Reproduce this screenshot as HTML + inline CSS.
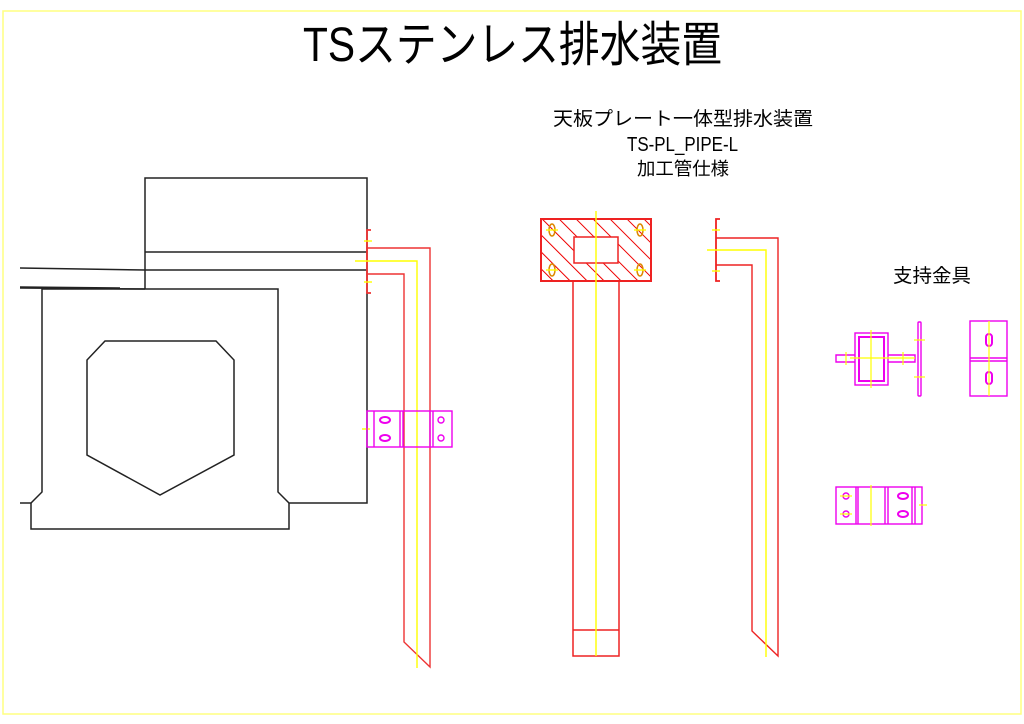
<!DOCTYPE html>
<html><head><meta charset="utf-8"><style>
html,body{margin:0;padding:0;background:#fff;}
svg{display:block;}
text{font-family:"Liberation Sans","Noto Sans CJK JP",sans-serif;fill:#000;}
</style></head><body>
<svg width="1024" height="724" viewBox="0 0 1024 724" xmlns="http://www.w3.org/2000/svg">
<defs>
<pattern id="h" patternUnits="userSpaceOnUse" width="12" height="12" patternTransform="rotate(-45)">
<line x1="0" y1="0" x2="0" y2="12" stroke="#e00" stroke-width="2"/>
</pattern>
</defs>
<rect x="3" y="11" width="1018" height="703" fill="none" stroke="#ffff80" stroke-width="1.5"/>
<text x="303" y="61" font-size="48" textLength="419" lengthAdjust="spacingAndGlyphs">TSステンレス排水装置</text>
<text x="553" y="125" font-size="19" textLength="260" lengthAdjust="spacingAndGlyphs">天板プレート一体型排水装置</text>
<text x="627" y="151" font-size="20" textLength="111" lengthAdjust="spacingAndGlyphs">TS-PL_PIPE-L</text>
<text x="637" y="175" font-size="18" textLength="92" lengthAdjust="spacingAndGlyphs">加工管仕様</text>
<text x="893" y="282" font-size="19" textLength="78" lengthAdjust="spacingAndGlyphs">支持金具</text>

<!-- left structure -->
<g fill="none" stroke="#222" stroke-width="1.5">
<polyline points="145,289 145,178 367,178 367,503 289,503 278,492 278,289 42,289 42,492 31,503 20,503"/>
<line x1="145" y1="252" x2="367" y2="252"/>
<line x1="145" y1="270" x2="367" y2="270"/>
<line x1="20" y1="268" x2="145" y2="270"/>
<line x1="20" y1="288" x2="145" y2="289"/>
<line x1="20" y1="287" x2="120" y2="288"/>
<polyline points="31,503 31,529 289,529 289,503"/>
<polygon points="105,341 216,341 234,360 234,455 160,495 87,455 87,360"/>
</g>

<!-- left pipe -->
<g fill="none" stroke="#e33" stroke-width="1.4">
<polyline points="367,248 430,248 430,667 404,642 404,274 367,274"/>
<polyline points="371,230 367,230 367,293 371,293" stroke-width="1.8"/>
</g>
<g stroke="#ff0" stroke-width="1.4" fill="none">
<polyline points="355,261 417,261 417,668"/>
<line x1="364" y1="241" x2="372" y2="241"/><line x1="364" y1="282" x2="372" y2="282"/>
<line x1="362" y1="429" x2="370" y2="429"/>
</g>
<!-- left bracket -->
<g fill="none" stroke="#e0e" stroke-width="1.4">
<rect x="367" y="411" width="85" height="36"/>
<line x1="374" y1="411" x2="374" y2="447"/>
<line x1="400" y1="411" x2="400" y2="447"/><line x1="403" y1="411" x2="403" y2="447"/>
<line x1="430" y1="411" x2="430" y2="447"/><line x1="433" y1="411" x2="433" y2="447"/>
<ellipse cx="385" cy="420" rx="5" ry="3" stroke-width="2"/><ellipse cx="385" cy="438" rx="5" ry="3" stroke-width="2"/>
<circle cx="441" cy="420" r="3"/><circle cx="441" cy="438" r="3"/>
</g>

<!-- middle plate -->
<path d="M541,219 H651 V281 H541 Z M574,237 V263 H618 V237 Z" fill="url(#h)" fill-rule="evenodd" stroke="none"/>
<g fill="none" stroke="#e22" stroke-width="1.5">
<rect x="541" y="219" width="110" height="62" stroke-width="2"/>
<rect x="574" y="237" width="44" height="26"/>
<rect x="573" y="281" width="46" height="375"/>
<line x1="573" y1="630" x2="619" y2="630"/>
<ellipse cx="552" cy="230" rx="3" ry="6" stroke="#d80"/><ellipse cx="640" cy="230" rx="3" ry="6" stroke="#d80"/>
<ellipse cx="552" cy="270" rx="3" ry="6" stroke="#d80"/><ellipse cx="640" cy="270" rx="3" ry="6" stroke="#d80"/>
</g>
<g stroke="#ff0" stroke-width="1.4">
<line x1="596" y1="211" x2="596" y2="656"/>
<line x1="546" y1="230" x2="558" y2="230"/><line x1="634" y1="230" x2="646" y2="230"/>
<line x1="546" y1="270" x2="558" y2="270"/><line x1="634" y1="270" x2="646" y2="270"/>
</g>

<!-- right pipe -->
<g fill="none" stroke="#e22" stroke-width="1.4">
<polyline points="716,238 778,238 778,656 752,631 752,265 716,265"/>
<polyline points="720,219 716,219 716,281 720,281" stroke-width="1.8"/>
</g>
<g stroke="#ff0" stroke-width="1.4" fill="none">
<polyline points="707,250 766,250 766,657"/>
<line x1="712" y1="230" x2="720" y2="230"/><line x1="712" y1="271" x2="720" y2="271"/>
</g>

<!-- right brackets -->
<g fill="none" stroke="#e0e" stroke-width="1.4">
<rect x="855" y="333" width="33" height="52"/>
<rect x="859" y="337" width="25" height="44" stroke-width="2"/>
<polyline points="855,355 836,355 836,362 855,362"/>
<polyline points="888,355 915,355 915,362 888,362"/>
<rect x="918" y="322" width="3" height="74" rx="1"/>
<rect x="970" y="321" width="37" height="75"/>
<line x1="970" y1="358" x2="1007" y2="358"/><line x1="970" y1="361" x2="1007" y2="361"/>
<rect x="986" y="334" width="6" height="12" rx="3" stroke-width="2"/><rect x="986" y="372" width="6" height="12" rx="3" stroke-width="2"/>
<rect x="836" y="487" width="86" height="37"/>
<line x1="856" y1="487" x2="856" y2="524"/><line x1="858" y1="487" x2="858" y2="524"/>
<line x1="885" y1="487" x2="885" y2="524"/><line x1="888" y1="487" x2="888" y2="524"/>
<line x1="912" y1="487" x2="912" y2="524"/><line x1="915" y1="487" x2="915" y2="524"/>
<circle cx="846" cy="496" r="3"/><circle cx="846" cy="514" r="3"/>
<ellipse cx="903" cy="496" rx="5" ry="3" stroke-width="2"/><ellipse cx="903" cy="514" rx="5" ry="3" stroke-width="2"/>
</g>
<g stroke="#ff0" stroke-width="1.2">
<line x1="871" y1="330" x2="871" y2="388"/>
<line x1="850" y1="358" x2="915" y2="358"/>
<line x1="846" y1="352" x2="846" y2="365"/><line x1="903" y1="352" x2="903" y2="365"/>
<line x1="914" y1="340" x2="925" y2="340"/><line x1="914" y1="377" x2="925" y2="377"/>
<line x1="989" y1="321" x2="989" y2="396"/>
<line x1="871" y1="485" x2="871" y2="526"/>
<line x1="919" y1="505" x2="927" y2="505"/>
<line x1="840" y1="496" x2="852" y2="496"/><line x1="840" y1="514" x2="852" y2="514"/>
</g>
</svg>
</body></html>
